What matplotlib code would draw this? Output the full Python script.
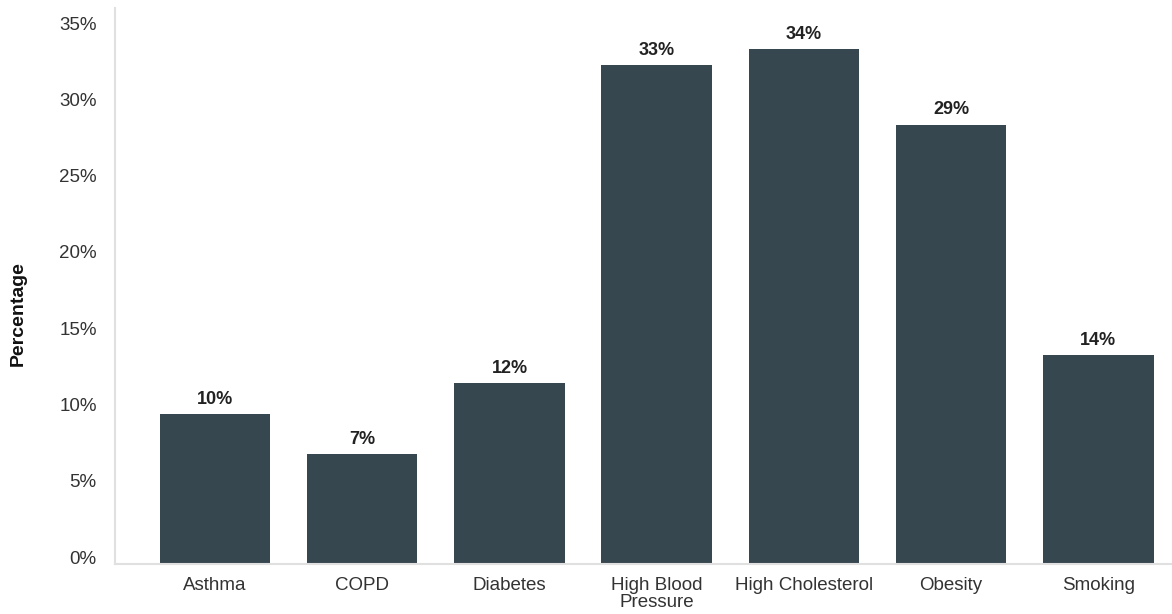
import matplotlib
matplotlib.use("Agg")
from matplotlib import pyplot as plt
from matplotlib.ticker import PercentFormatter
from matplotlib.transforms import ScaledTranslation

plt.rcParams['font.family'] = ['Liberation Sans', 'DejaVu Sans']

categories = ['Asthma', 'COPD', 'Diabetes', 'High Blood\nPressure',
              'High Cholesterol', 'Obesity', 'Smoking']
values = [9.8, 7.2, 11.85, 32.7, 33.75, 28.8, 13.7]
labels = ['10%', '7%', '12%', '33%', '34%', '29%', '14%']

fig = plt.figure(figsize=(11.72, 6.14), dpi=100)
ax = fig.add_axes([0.098, 0.0814, 0.902, 0.9055])

x = range(len(categories))
bars = ax.bar(x, values, width=0.75, color='#37474f')
for b, lab in zip(bars, labels):
    ax.annotate(lab, (b.get_x() + b.get_width() / 2, b.get_height()),
                xytext=(0, 4.5), textcoords='offset points',
                ha='center', va='bottom', fontsize=13, fontweight='bold',
                color='#222222')

ax.set_xticks(list(x))
ax.set_xticklabels(categories, fontsize=13.5, color='#333333', linespacing=1.0)
ax.set_xlim(-0.68, 6.5)
ax.set_ylim(0, 36.44)
ax.set_yticks(range(0, 36, 5))
ax.yaxis.set_major_formatter(PercentFormatter(decimals=0))
ax.tick_params(axis='y', labelsize=13.5, colors='#333333', length=0, pad=13)
ax.tick_params(axis='x', length=0, pad=9)
# y tick labels sit a little above their ticks in the original
shift = ScaledTranslation(0, 7 / 100, fig.dpi_scale_trans)
for t in ax.get_yticklabels():
    t.set_transform(t.get_transform() + shift)
ax.set_ylabel('Percentage', fontsize=14, fontweight='bold', color='#111111')
ax.yaxis.set_label_coords(-0.083, 0.451)

for s in ['top', 'right']:
    ax.spines[s].set_visible(False)
for s in ['left', 'bottom']:
    ax.spines[s].set_color('#e0e0e0')
    ax.spines[s].set_linewidth(1.5)

fig.savefig('out.png', dpi=100)
